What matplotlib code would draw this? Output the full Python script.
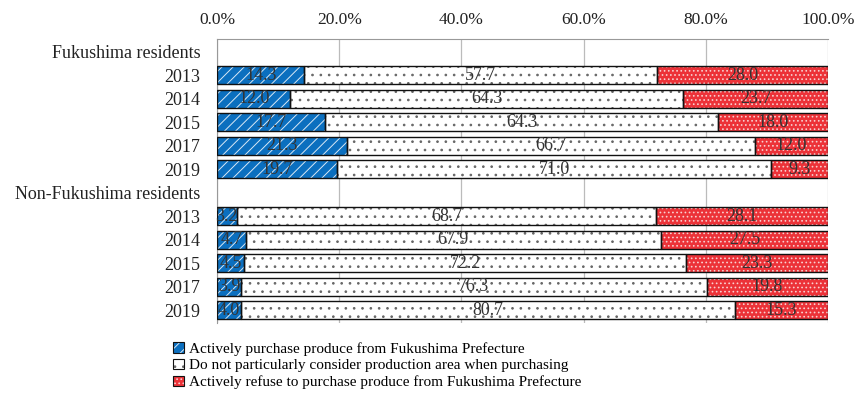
import numpy as np
import matplotlib.pyplot as plt
from matplotlib.patches import Patch, Rectangle
from matplotlib.legend_handler import HandlerPatch

plt.rcParams['font.family'] = ['Liberation Serif', 'DejaVu Serif']
plt.rcParams['hatch.linewidth'] = 0.7

# rows from top to bottom; header rows carry no bars
rows = ['Fukushima residents', '2013', '2014', '2015', '2017', '2019',
        'Non-Fukushima residents', '2013', '2014', '2015', '2017', '2019']
bar_rows = [1, 2, 3, 4, 5, 7, 8, 9, 10, 11]

purchase = [14.3, 12.0, 17.7, 21.3, 19.7, 3.2, 4.7, 4.5, 3.9, 4.0]
no_consider = [57.7, 64.3, 64.3, 66.7, 71.0, 68.7, 67.9, 72.2, 76.3, 80.7]
refuse = [28.0, 23.7, 18.0, 12.0, 9.3, 28.1, 27.5, 23.3, 19.8, 15.3]

series = ['Actively purchase produce from Fukushima Prefecture',
          'Do not particularly consider production area when purchasing',
          'Actively refuse to purchase produce from Fukushima Prefecture']
colors = ['#0B6FBF', 'white', '#EC3238']
hatches = ['///', '..', '....']
hatch_cols = ['#D8E8F5', '#666666', '#F8D0D0']

fig = plt.figure(figsize=(8.59, 3.97), dpi=100)
ax = fig.add_axes([0.2526, 0.186, 0.7114, 0.716])

left = np.zeros(len(bar_rows))
for vals, c, h, hc in zip([purchase, no_consider, refuse], colors, hatches, hatch_cols):
    vals = np.array(vals)
    ax.barh(bar_rows, vals, left=left, height=0.77, color=c, edgecolor='none', zorder=2)
    ax.barh(bar_rows, vals, left=left, height=0.77, facecolor='none', edgecolor=hc,
            hatch=h, linewidth=0, zorder=3)
    ax.barh(bar_rows, vals, left=left, height=0.77, facecolor='none', edgecolor='#111111',
            linewidth=1.0, zorder=4)
    for r, l, v in zip(bar_rows, left, vals):
        ax.text(l + v / 2, r, f'{v:.1f}', ha='center', va='center', fontsize=13,
                color='#333333', zorder=5)
    left += vals

ax.set_xlim(0, 100)
ax.set_ylim(11.55, -0.55)
ax.set_yticks(range(len(rows)))
ax.set_yticklabels(rows, fontsize=13)
ax.set_xticks(np.arange(0, 101, 20))
ax.set_xticklabels([f'{t:.1f}%' for t in np.arange(0, 101, 20)], fontsize=12.5)
ax.xaxis.tick_top()
ax.tick_params(axis='y', length=0, pad=12, colors='#222222')
ax.tick_params(axis='x', length=0, pad=8, colors='#222222')
ax.grid(axis='x', color='#BBBBBB', linewidth=0.9, zorder=0)
for s in ['bottom', 'right']:
    ax.spines[s].set_visible(False)
for s in ['top', 'left']:
    ax.spines[s].set_color('#999999')


class HatchHandler(HandlerPatch):
    def create_artists(self, legend, orig_handle, xdescent, ydescent, width, height, fontsize, trans):
        fill = Rectangle((-xdescent, -ydescent), width, height, transform=trans,
                         facecolor=orig_handle.get_facecolor(), edgecolor='none')
        hat = Rectangle((-xdescent, -ydescent), width, height, transform=trans,
                        facecolor='none', edgecolor=orig_handle.hc,
                        hatch=orig_handle.get_hatch(), linewidth=0)
        edge = Rectangle((-xdescent, -ydescent), width, height, transform=trans,
                         facecolor='none', edgecolor='#111111', linewidth=0.8)
        return [fill, hat, edge]


handles = []
for s, c, h, hc in zip(series, colors, hatches, hatch_cols):
    p = Patch(facecolor=c, hatch=h, label=s)
    p.hc = hc
    handles.append(p)

fig.legend(handles=handles, loc='upper left', bbox_to_anchor=(0.193, 0.158),
           frameon=False, fontsize=11, handlelength=0.7, handleheight=0.7,
           handletextpad=0.3, labelspacing=0.2, borderpad=0,
           handler_map={Patch: HatchHandler()})

fig.savefig('out.png', dpi=100)
